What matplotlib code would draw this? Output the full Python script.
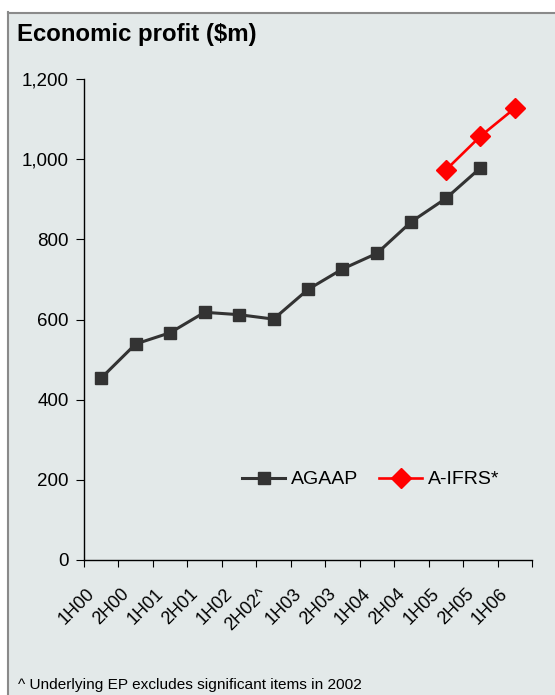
import matplotlib
matplotlib.use("Agg")
import matplotlib.pyplot as plt
from matplotlib.patches import Rectangle
from matplotlib.lines import Line2D
from matplotlib.ticker import FuncFormatter

plt.rcParams['font.family'] = ['Liberation Sans', 'DejaVu Sans']

periods = ["1H00", "2H00", "1H01", "2H01", "1H02", "2H02^", "1H03",
           "2H03", "1H04", "2H04", "1H05", "2H05", "1H06"]
agaap = [454, 539, 567, 618, 612, 601, 675, 726, 765, 844, 902, 978]
aifrs_periods = ["1H05", "2H05", "1H06"]
aifrs = [973, 1057, 1127]

bg = "#E3E9E9"
fig = plt.figure(figsize=(5.55, 6.95), dpi=100)
fig.patch.set_facecolor("white")

# panel background with grey top/left border
W, H = 555, 695
fig.patches.append(Rectangle((7 / W, 0), 1 - 7 / W, 1 - 12 / H,
                             transform=fig.transFigure, facecolor=bg,
                             edgecolor="none", zorder=-10))
fig.lines.append(Line2D([7.5 / W, 7.5 / W], [0, 1 - 12 / H],
                        transform=fig.transFigure, color="#8A8A8A", lw=1.5,
                        zorder=-5))
fig.lines.append(Line2D([7.5 / W, 1], [1 - 12.5 / H, 1 - 12.5 / H],
                        transform=fig.transFigure, color="#8A8A8A", lw=1.5,
                        zorder=-5))

ax = fig.add_axes([84 / W, 1 - 560 / H, (532 - 84) / W, (560 - 79) / H])
ax.set_zorder(1)
ax.patch.set_visible(False)

x = list(range(len(periods)))
xi = [periods.index(p) for p in aifrs_periods]

ax.plot(x[:len(agaap)], agaap, color="#333333", lw=2.2, marker="s",
        markersize=8, label="AGAAP", zorder=3)
ax.plot(xi, aifrs, color="#FF0000", lw=1.9, marker="D",
        markersize=10, label="A-IFRS*", zorder=3)

ax.set_ylim(0, 1200)
ax.set_yticks(range(0, 1201, 200))
ax.yaxis.set_major_formatter(FuncFormatter(lambda v, p: f"{int(v):,}"))
ax.set_xlim(-0.5, len(periods) - 0.5)
# tick marks sit between categories; labels are placed under each category
ax.set_xticks([i - 0.5 for i in range(len(periods) + 1)])
ax.set_xticklabels([])
for i, name in zip(x, periods):
    ax.annotate(name, xy=(i, 0), xycoords=ax.get_xaxis_transform(),
                xytext=(-11, -18), textcoords="offset points",
                rotation=45, ha="right", va="top", rotation_mode="anchor",
                fontsize=13, annotation_clip=False)
ax.tick_params(axis="x", length=5, direction="out")
ax.tick_params(axis="y", length=6, direction="out", labelsize=13.5, pad=5)

for s in ["top", "right"]:
    ax.spines[s].set_visible(False)
for s in ["left", "bottom"]:
    ax.spines[s].set_linewidth(1.0)

ax.legend(loc="center left", bbox_to_anchor=(0.314, 0.167), ncol=2,
          frameon=False, fontsize=14, handlelength=2.2, handletextpad=0.3,
          columnspacing=1.1)

fig.text(17 / W, 1 - 35 / H, "Economic profit ($m)", fontsize=17.3,
         fontweight="bold", va="center", ha="left")
fig.text(18 / W, 1 - 685 / H,
         "^ Underlying EP excludes significant items in 2002",
         fontsize=11.1, va="center", ha="left")

fig.savefig("out.png", dpi=100, facecolor=fig.get_facecolor())
